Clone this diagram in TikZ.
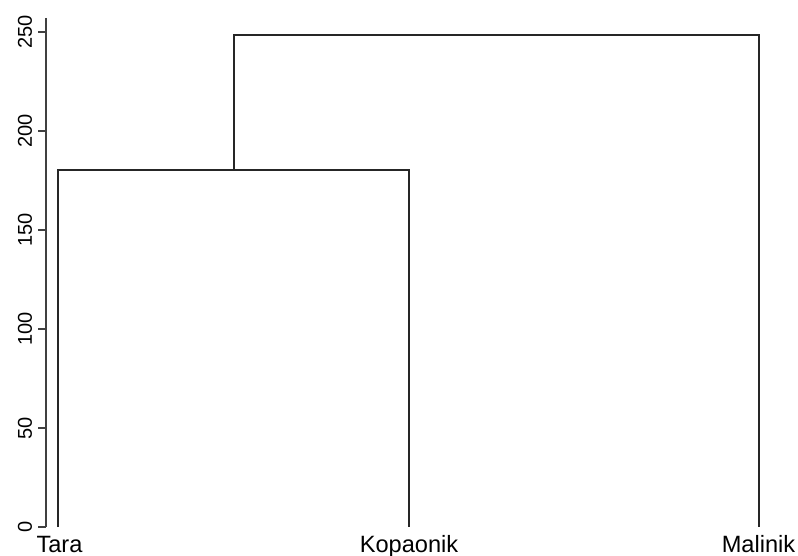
\documentclass[tikz,border=0pt]{standalone}
\usepackage{fontspec}
\setmainfont{Liberation Sans}
\begin{document}
\begin{tikzpicture}[x=0.5pt,y=-0.5pt,
  dend/.style={line width=1pt,black!85},
  axisline/.style={line width=0.8pt,black!75},
  ticklab/.style={rotate=90,anchor=base,inner sep=0pt,font=\fontsize{10}{12}\selectfont},
  leaflab/.style={anchor=base,inner sep=0pt,font=\fontsize{11.8}{14}\selectfont}]
\useasboundingbox (0,0) rectangle (798,556);
% y axis: value v at y = 527 - 1.98 v
\coordinate (atop) at (46,18);
\coordinate (abot) at (46,527);
\draw[axisline] (atop) -- (abot);
\foreach \v in {0,50,100,150,200,250}{
  \draw[axisline] (38,{527-1.98*\v}) -- (46,{527-1.98*\v});
  \node[ticklab] (t\v) at (32,{527-1.98*\v}) {\v};
}
% leaves
\coordinate (tara) at (58,527);
\coordinate (kopa) at (409,527);
\coordinate (mali) at (759,527);
\node[leaflab] (ltara) at (59.5,552) {Tara};
\node[leaflab] (lkopa) at (409,552) {Kopaonik};
\node[leaflab] (lmali) at (758.5,552) {Malinik};
% merges
\coordinate (m1l) at (58,170);
\coordinate (m1r) at (409,170);
\coordinate (m1c) at (233.5,170);
\coordinate (m2l) at (233.5,35.5);
\coordinate (m2r) at (759,35.5);
\draw[dend] (tara) -- (m1l) -- (m1r) -- (kopa);
\draw[dend] (m1c) -- (m2l) -- (m2r) -- (mali);
\end{tikzpicture}
\end{document}
